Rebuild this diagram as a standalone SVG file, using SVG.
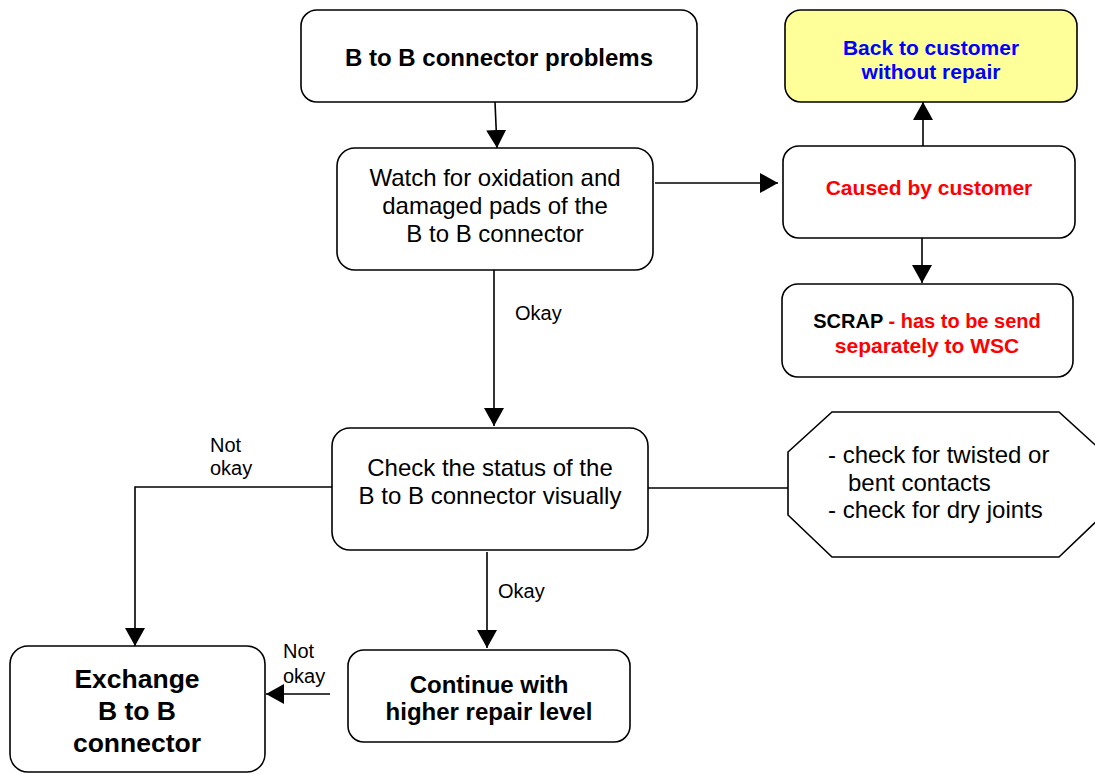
<svg xmlns="http://www.w3.org/2000/svg" width="1095" height="774" viewBox="0 0 1095 774">
  <style>
    .box { fill: #ffffff; stroke: #000000; stroke-width: 1.6; }
    .hl { fill: #ffff99; }
    .edge { fill: none; stroke: #000000; stroke-width: 1.6; }
    text { font-family: "Liberation Sans", Arial, sans-serif; text-anchor: middle; fill: #000000; }
    .b { font-weight: bold; }
    .body { font-size: 24px; }
    .lbl { font-size: 20px; text-anchor: start; }
    .red { fill: #ff0000; }
    .blue { fill: #0000ff; }
  </style>
  <defs>
    <marker id="arr" viewBox="0 0 18 20" refX="18" refY="10" markerWidth="18" markerHeight="20" markerUnits="userSpaceOnUse" orient="auto">
      <path d="M0,0 L18,10 L0,20 z" fill="#000000"/>
    </marker>
  </defs>

  <!-- connectors -->
  <g id="connectors">
    <line class="edge" x1="495" y1="102" x2="497" y2="148" marker-end="url(#arr)"/>
    <line class="edge" x1="655" y1="183" x2="778" y2="183" marker-end="url(#arr)"/>
    <line class="edge" x1="923" y1="146" x2="923" y2="102" marker-end="url(#arr)"/>
    <line class="edge" x1="922" y1="238" x2="922" y2="283" marker-end="url(#arr)"/>
    <line class="edge" x1="494" y1="270" x2="494" y2="426" marker-end="url(#arr)"/>
    <polyline class="edge" points="332,487 135,487 135,646" marker-end="url(#arr)"/>
    <line class="edge" x1="648" y1="488" x2="788" y2="488"/>
    <line class="edge" x1="487" y1="552" x2="487" y2="648" marker-end="url(#arr)"/>
    <line class="edge" x1="330" y1="694" x2="266" y2="694" marker-end="url(#arr)"/>
    <text class="lbl" x="515" y="320">Okay</text>
    <text class="lbl" x="210" y="452">Not</text>
    <text class="lbl" x="210" y="475">okay</text>
    <text class="lbl" x="498" y="598">Okay</text>
    <text class="lbl" x="283" y="658">Not</text>
    <text class="lbl" x="283" y="683">okay</text>
  </g>

  <g id="start">
    <rect class="box" x="301" y="10" width="396" height="92" rx="16"/>
    <text class="b" x="499" y="66" font-size="24">B to B connector problems</text>
  </g>

  <g id="watch">
    <rect class="box" x="337" y="148" width="316" height="122" rx="18"/>
    <text class="body" x="495" y="186">Watch for oxidation and</text>
    <text class="body" x="495" y="214">damaged pads of the</text>
    <text class="body" x="495" y="242">B to B connector</text>
  </g>

  <g id="back-to-customer">
    <rect class="box hl" x="785" y="10" width="292" height="92" rx="16"/>
    <text class="b blue" x="931" y="55" font-size="21">Back to customer</text>
    <text class="b blue" x="931" y="79" font-size="21">without repair</text>
  </g>

  <g id="caused">
    <rect class="box" x="783" y="146" width="292" height="92" rx="16"/>
    <text class="b red" x="929" y="195" font-size="21">Caused by customer</text>
  </g>

  <g id="scrap">
    <rect class="box" x="782" y="284" width="291" height="93" rx="16"/>
    <text class="b" x="927" y="328" font-size="20"><tspan>SCRAP</tspan><tspan class="red"> - has to be send</tspan></text>
    <text class="b red" x="927" y="353" font-size="21">separately to WSC</text>
  </g>

  <g id="check">
    <rect class="box" x="332" y="428" width="316" height="122" rx="18"/>
    <text class="body" x="490" y="476">Check the status of the</text>
    <text class="body" x="490" y="504">B to B connector visually</text>
  </g>

  <g id="hints">
    <polygon class="box" points="832,412 1059,412 1103,452 1103,515 1059,557 832,557 788,515 788,452"/>
    <text class="body" x="828" y="463" style="text-anchor:start">- check for twisted or</text>
    <text class="body" x="848" y="491" style="text-anchor:start">bent contacts</text>
    <text class="body" x="828" y="518" style="text-anchor:start">- check for dry joints</text>
  </g>

  <g id="continue">
    <rect class="box" x="348" y="650" width="282" height="92" rx="16"/>
    <text class="b" x="489" y="693" font-size="24">Continue with</text>
    <text class="b" x="489" y="720" font-size="24">higher repair level</text>
  </g>

  <g id="exchange">
    <rect class="box" x="10" y="646" width="255" height="126" rx="18"/>
    <text class="b" x="137" y="688" font-size="26.5">Exchange</text>
    <text class="b" x="137" y="720" font-size="26.5">B to B</text>
    <text class="b" x="137" y="752" font-size="26.5">connector</text>
  </g>
</svg>
